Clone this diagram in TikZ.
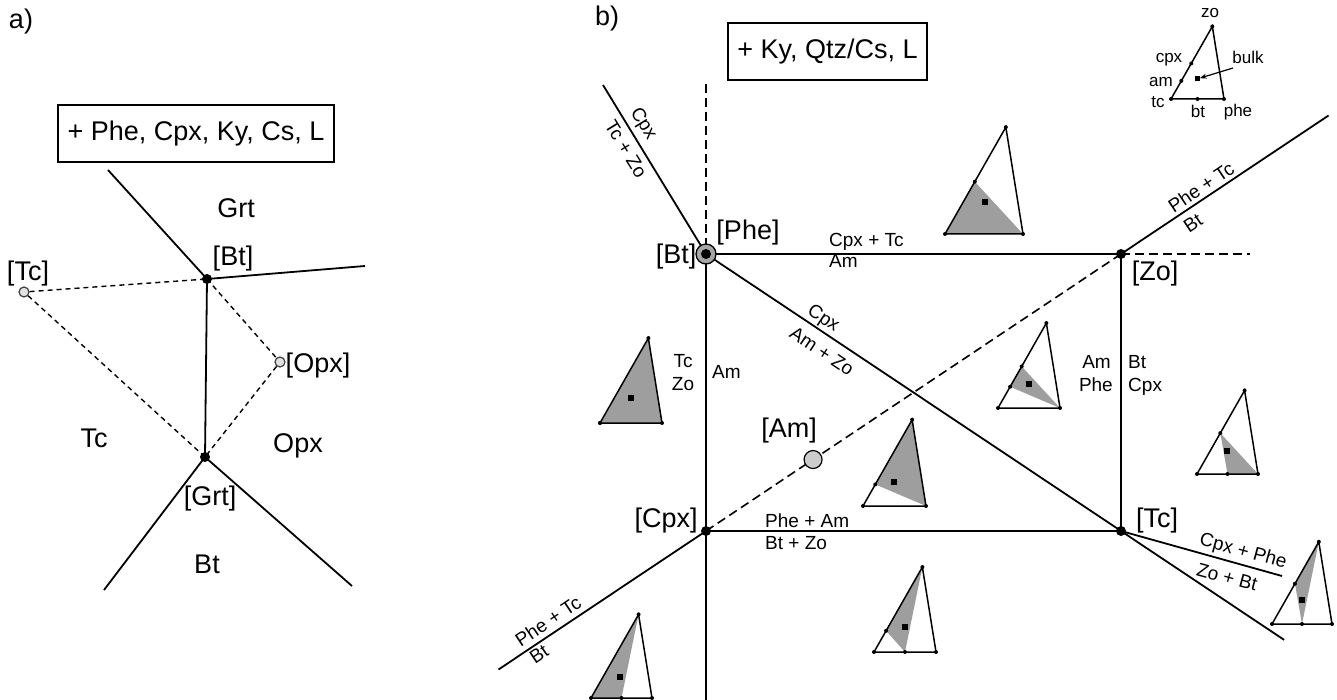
\documentclass[tikz,border=0pt]{standalone}
\usepackage{fontspec}
\setmainfont{Liberation Sans}
\usetikzlibrary{arrows.meta,calc}
\newcommand{\ctri}[5]{%
  \begin{scope}[shift={(#1,#2)},scale=#3]
    \coordinate (tc) at (0,0);
    \coordinate (phe) at (1,0);
    \coordinate (zo) at (0.78,-1.37);
    \coordinate (cpx) at (0.382,-0.671);
    \coordinate (am) at (0.195,-0.3425);
    \coordinate (bt) at (0.5,0);
    \fill[grayfill] #4;
    \draw[triline] (tc) -- (phe) -- (zo) -- cycle;
    \foreach \p in {tc,phe,zo,#5} \node[vx] at (\p) {};
  \end{scope}}
\begin{document}
\begin{tikzpicture}[x=1pt,y=-1pt,
  ln/.style={line width=1.8pt},
  triline/.style={line width=1.5pt, line join=miter},
  dsa/.style={line width=1.4pt, dash pattern=on 5pt off 4pt},
  dsb/.style={line width=1.6pt, dash pattern=on 9pt off 5pt},
  grayfill/.style={fill=black!38},
  big/.style={font=\fontsize{27}{30}\selectfont, inner sep=0pt},
  lab/.style={font=\fontsize{19}{21}\selectfont, inner sep=1pt},
  small/.style={font=\fontsize{17}{18}\selectfont, inner sep=0pt},
  boxlab/.style={draw, line width=2.2pt, font=\fontsize{27}{30}\selectfont, minimum height=57pt},
  pt/.style={circle, fill=black, inner sep=0pt, minimum size=10pt},
  opn/.style={circle, draw=black!75, fill=black!12, line width=1.2pt, inner sep=0pt, minimum size=10pt},
  vx/.style={circle, fill=black, inner sep=0pt, minimum size=4pt},
  bulkdot/.style={rectangle, fill=black, inner sep=0pt, minimum size=6pt}
]
\useasboundingbox (0,0) rectangle (1337,700);

%%%%%%%%%%%%%%%% panel a
\node[big, anchor=base] (alab) at (21,29) {a)};
\node[boxlab, minimum width=276pt] (abox) at (196,133.5) {+ Phe, Cpx, Ky, Cs, L};

\coordinate (a1) at (108,170);
\coordinate (a2) at (365,266);
\coordinate (a3) at (104,590);
\coordinate (a4) at (352,586);
\node[pt] (aBt) at (207,279) {};
\node[pt] (aGrt) at (205,457) {};
\node[opn] (aTc) at (24,292) {};
\node[opn] (aOpx) at (280,362) {};

\draw[ln] (a1) -- (aBt.center) -- (a2);
\draw[ln] (aBt.center) -- (aGrt.center);
\draw[ln] (a3) -- (aGrt.center) -- (a4);
\draw[dsa] (aTc) -- (aBt.center);
\draw[dsa] (aTc) -- (aGrt.center);
\draw[dsa] (aBt.center) -- (aOpx);
\draw[dsa] (aOpx) -- (aGrt.center);

\node[big, anchor=base] (aGrtl) at (236,218) {Grt};
\node[big, anchor=base] (aBtl) at (233,266) {[Bt]};
\node[big, anchor=base] (aTcl) at (28,281) {[Tc]};
\node[big, anchor=base] (aOpxl) at (318,372) {[Opx]};
\node[big, anchor=base] (aTcf) at (94,447) {Tc};
\node[big, anchor=base] (aOpxf) at (298,452) {Opx};
\node[big, anchor=base] (aGrtp) at (210,505) {[Grt]};
\node[big, anchor=base] (aBtf) at (207,573) {Bt};

%%%%%%%%%%%%%%%% panel b
\node[big, anchor=base] (blab) at (607,26) {b)};
\node[boxlab, minimum width=199pt] (bbox) at (827.5,51.5) {+ Ky, Qtz/Cs, L};

\coordinate (Bt) at (706,254);
\coordinate (Zo) at (1121,254);
\coordinate (Tc) at (1121,531);
\coordinate (Cpx) at (706,531);
\coordinate (bL1) at (603,85);
\coordinate (bV0) at (706,84);
\coordinate (bV1) at (706,702);
\coordinate (bH) at (1250,254);
\coordinate (bL2) at ($(Cpx)!1.5!(Zo)$);
\coordinate (bL3) at ($(Zo)!1.5!(Cpx)$);
\coordinate (bL4) at ($(Bt)!1.393!(Tc)$);
\coordinate (bL5) at (1282,576);

% small composition triangles
\ctri{945}{234}{78}{(tc) -- (cpx) -- (phe) -- cycle}{cpx}
\ctri{998}{408}{62}{(am) -- (cpx) -- (phe) -- cycle}{am,cpx}
\ctri{863}{506}{63}{(am) -- (zo) -- (phe) -- cycle}{am}
\ctri{874}{652}{62}{(am) -- (zo) -- (bt) -- cycle}{am,bt}
\ctri{1197}{474}{61}{(cpx) -- (bt) -- (phe) -- cycle}{cpx,bt}
\ctri{1272}{624}{60}{(cpx) -- (zo) -- (bt) -- cycle}{cpx,bt}
\ctri{591}{698}{61}{(tc) -- (zo) -- (bt) -- cycle}{bt}
\ctri{600}{423}{62}{(tc) -- (zo) -- (phe) -- cycle}{tc}
\ctri{1171}{99}{53}{(tc)}{cpx,am,bt}
\node[bulkdot] (k1) at (985,202) {};
\node[bulkdot] (k2) at (1029,384) {};
\node[bulkdot] (k3) at (894,482) {};
\node[bulkdot] (k4) at (905,627) {};
\node[bulkdot] (k5) at (1227,451) {};
\node[bulkdot] (k6) at (1302,600) {};
\node[bulkdot] (k7) at (620,677) {};
\node[bulkdot] (k8) at (631,398) {};
\node[bulkdot, minimum size=5pt] (kin) at (1197,79) {};

% inset labels
\node[small, anchor=base] (izo) at (1210,18) {zo};
\node[small, anchor=base] (icpx) at (1169,63) {cpx};
\node[small, anchor=base] (iam) at (1161,87) {am};
\node[small, anchor=base] (itc) at (1158,108) {tc};
\node[small, anchor=base] (ibt) at (1198,118) {bt};
\node[small, anchor=base] (iphe) at (1238,117) {phe};
\node[small, anchor=base] (ibulk) at (1248,64) {bulk};
\coordinate (barrow) at (1233,68);
\draw[line width=1.2pt, -{Stealth[length=7pt,width=5pt]}] (barrow) -- (kin);

% phase lines
\draw[ln] (bL1) -- (Bt);
\draw[dsb] (bV0) -- (Bt);
\draw[ln] (Bt) -- (Zo);
\draw[ln] (Bt) -- (bL4);
\draw[ln] (Bt) -- (bV1);
\draw[ln] (Zo) -- (Tc);
\draw[ln] (Cpx) -- (Tc);
\draw[ln] (Tc) -- (bL5);
\draw[ln] (Zo) -- (bL2);
\draw[ln] (Cpx) -- (bL3);
\draw[dsb] (Cpx) -- (Zo);
\draw[dsb] (Zo) -- (bH);

% invariant points
\node[circle, draw, line width=1.3pt, fill=black!35, minimum size=20pt, inner sep=0pt] (BtRing) at (Bt) {};
\node[circle, fill=black, minimum size=10pt, inner sep=0pt] (BtDot) at (Bt) {};
\node[pt] (CpxDot) at (Cpx) {};
\node[pt] (ZoDot) at (Zo) {};
\node[pt] (TcDot) at (Tc) {};
\node[circle, draw, line width=1.2pt, fill=black!20, minimum size=18pt, inner sep=0pt] (Am) at ($(Cpx)!0.258!(Zo)$) {};

% point labels
\node[big, anchor=base] (lPhe) at (748,240) {[Phe]};
\node[big, anchor=base] (lBt) at (676,264) {[Bt]};
\node[big, anchor=base] (lZo) at (1155,281) {[Zo]};
\node[big, anchor=base] (lTc) at (1157,527) {[Tc]};
\node[big, anchor=base] (lCpx) at (666,527) {[Cpx]};
\node[big, anchor=base] (lAm) at (789,437) {[Am]};

% reaction labels along sloped lines
\node[lab, rotate=-58.4] (r1a) at (643,124) {Cpx};
\node[lab, rotate=-58.4] (r1b) at (626,149) {Tc + Zo};
\node[lab, rotate=-33.7] (r2a) at (823,319) {Cpx};
\node[lab, rotate=-33.7] (r2b) at (822,351) {Am + Zo};
\node[lab, rotate=33.7] (r3a) at (1201,187) {Phe + Tc};
\node[lab, rotate=33.7] (r3b) at (1193,223) {Bt};
\node[lab, rotate=33.7] (r4a) at (548,621) {Phe + Tc};
\node[lab, rotate=33.7] (r4b) at (539,654) {Bt};
\node[lab, rotate=-15.3] (r5a) at (1243,552) {Cpx + Phe};
\node[lab, rotate=-15.3] (r5b) at (1227,577) {Zo + Bt};

\node[lab, anchor=base west] (r6a) at (828,247) {Cpx + Tc};
\node[lab, anchor=base west] (r6b) at (828,268) {Am};
\node[lab, anchor=base west] (r7a) at (764,527) {Phe + Am};
\node[lab, anchor=base west] (r7b) at (764,549) {Bt + Zo};
\node[lab, anchor=base] (r8a) at (683,367) {Tc};
\node[lab, anchor=base] (r8b) at (683,390) {Zo};
\node[lab, anchor=base west] (r8c) at (711,378) {Am};
\node[lab, anchor=base east] (r9a) at (1112,368) {Am};
\node[lab, anchor=base east] (r9b) at (1114,391) {Phe};
\node[lab, anchor=base west] (r9c) at (1127,368) {Bt};
\node[lab, anchor=base west] (r9d) at (1127,391) {Cpx};
\end{tikzpicture}
\end{document}
